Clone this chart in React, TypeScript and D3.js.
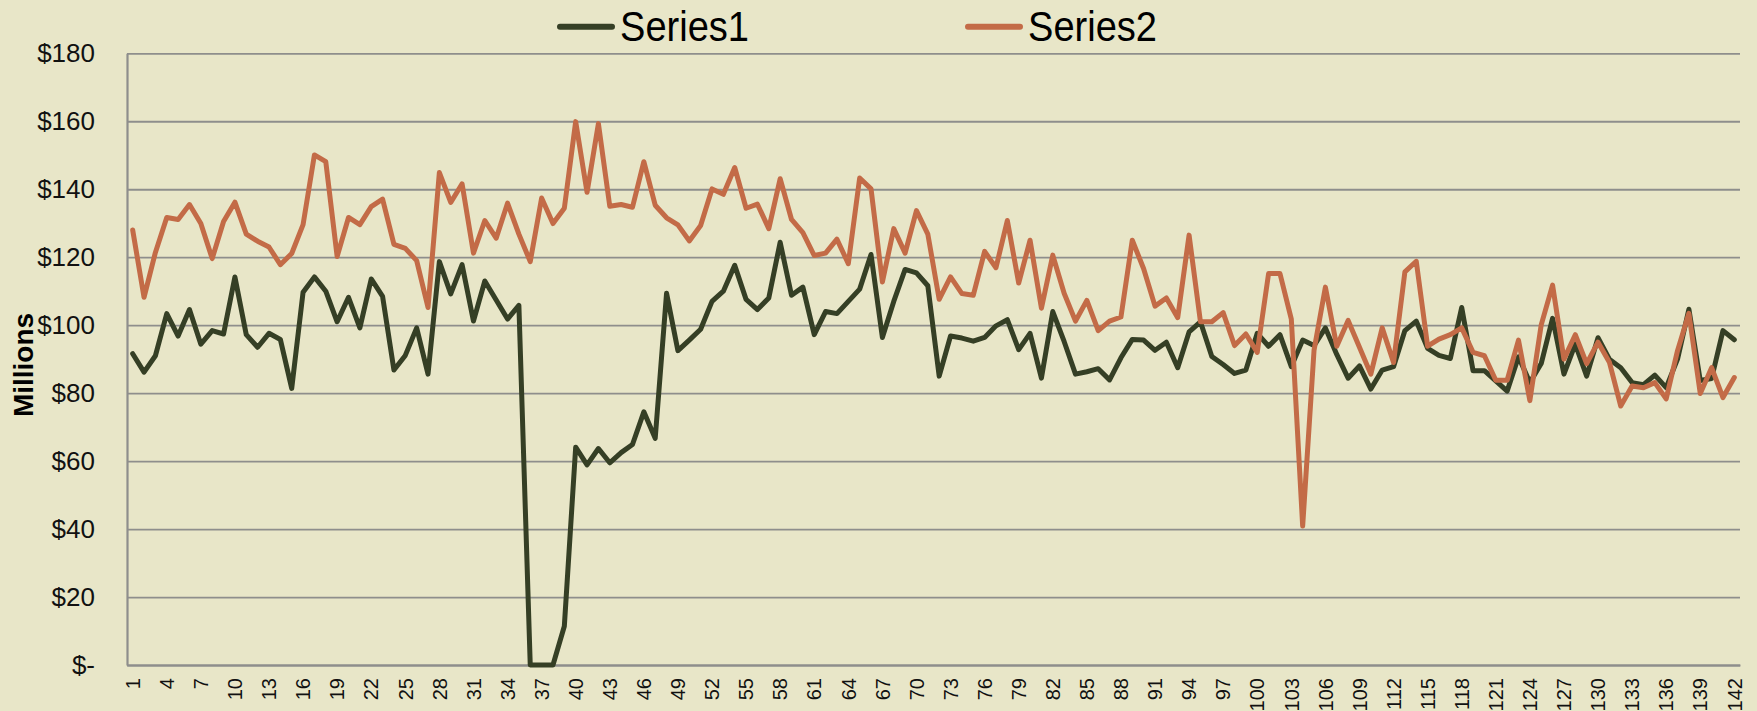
import * as d3 from "d3";
import { useEffect, useRef } from "react";

// values in millions
const series1 = [
  91.6, 86.2, 91.0, 103.4, 96.8, 104.6, 94.4, 98.4, 97.4, 114.2,
  97.2, 93.5, 97.6, 95.8, 81.4, 109.7, 114.2, 110.0, 101.0, 108.2,
  99.2, 113.6, 108.5, 86.8, 91.1, 99.2, 85.6, 118.7, 109.2, 117.8,
  101.2, 113.0, 107.4, 101.8, 105.8, 0, 0, 0, 11.4, 64.1,
  58.9, 63.7, 59.5, 62.5, 64.9, 74.5, 66.7, 109.4, 92.5, 95.6,
  98.8, 107.0, 110.0, 117.6, 107.6, 104.6, 108.0, 124.4, 108.8, 111.2,
  97.2, 104.0, 103.4, 107.0, 110.6, 120.8, 96.4, 107.0, 116.4, 115.4,
  111.6, 85.0, 96.8, 96.2, 95.3, 96.4, 99.8, 101.6, 92.8, 97.6,
  84.4, 104.0, 95.2, 85.6, 86.3, 87.2, 83.9, 90.4, 95.8, 95.6,
  92.6, 95.0, 87.5, 98.0, 101.0, 90.8, 88.4, 85.8, 86.8, 97.6,
  93.8, 97.2, 87.8, 95.6, 94.0, 99.2, 91.4, 84.4, 88.0, 81.2,
  86.8, 87.8, 98.4, 101.2, 93.2, 91.1, 90.2, 105.2, 86.6, 86.6,
  83.6, 80.6, 90.7, 83.1, 88.7, 102.0, 85.6, 94.4, 85.0, 96.3,
  90.0, 87.5, 83.1, 82.5, 85.3, 81.6, 90.0, 104.7, 83.7, 84.3,
  98.4, 95.7,
];

const series2 = [
  128.0, 108.2, 121.4, 131.7, 131.1, 135.5, 129.9, 119.6, 130.5, 136.2,
  126.8, 124.7, 123.0, 117.8, 121.1, 129.6, 150.1, 148.1, 120.2, 131.7,
  129.6, 134.9, 137.1, 123.8, 122.6, 119.0, 105.2, 144.9, 136.1, 141.6,
  121.2, 130.8, 125.6, 135.9, 126.8, 118.7, 137.4, 129.9, 134.4, 159.9,
  139.1, 159.3, 135.0, 135.5, 134.7, 148.1, 135.3, 131.6, 129.5, 124.8,
  129.3, 140.1, 138.5, 146.4, 134.4, 135.6, 128.4, 143.1, 131.1, 127.2,
  120.5, 121.2, 125.3, 118.1, 143.3, 140.1, 112.7, 128.4, 121.2, 133.7,
  126.8, 107.6, 114.2, 109.3, 108.8, 121.7, 116.9, 130.8, 112.4, 125.0,
  105.0, 120.6, 109.4, 101.2, 107.3, 98.4, 101.2, 102.4, 125.0, 116.6,
  105.6, 108.0, 102.2, 126.5, 101.0, 101.0, 103.7, 94.0, 97.4, 92.0,
  115.2, 115.2, 101.8, 40.9, 92.6, 111.2, 93.8, 101.4, 93.5, 85.6,
  99.2, 89.0, 115.7, 118.8, 93.8, 95.9, 97.2, 99.2, 92.0, 91.0,
  83.8, 83.8, 95.6, 77.8, 100.1, 111.8, 90.0, 97.2, 88.7, 95.0,
  89.1, 76.2, 82.1, 81.6, 83.1, 78.3, 92.5, 103.5, 79.9, 87.5,
  78.7, 84.6,
];

const categories = series1.map((_, i) => String(i + 1));
const xTickLabels = categories.filter((_, i) => i % 3 === 0);
const yTicks = [0, 20, 40, 60, 80, 100, 120, 140, 160, 180];

const seriesList = [
  { name: "Series1", values: series1, color: "#353f25" },
  { name: "Series2", values: series2, color: "#c36b47" },
];

const W = 1757;
const H = 711;
const margin = { top: 53.3, right: 17, bottom: 46, left: 127 };
const bg = "#e8e6c8";
const gridColor = "#8e8e8c";

const App = () => {
  const ref = useRef(null);

  useEffect(() => {
    const svg = d3.select(ref.current);
    svg.selectAll("*").remove();

    const innerW = W - margin.left - margin.right;
    const innerH = H - margin.top - margin.bottom;

    const x = d3.scaleBand().domain(categories).range([0, innerW]);
    const y = d3.scaleLinear().domain([0, 180]).range([innerH, 0]);

    svg.append("rect").attr("width", W).attr("height", H).attr("fill", bg);

    const g = svg.append("g").attr("transform", `translate(${margin.left},${margin.top})`);

    // y axis + gridlines
    const yAxis = d3
      .axisLeft(y)
      .tickValues(yTicks)
      .tickSizeInner(-innerW)
      .tickSizeOuter(0)
      .tickPadding(32)
      .tickFormat((d) => (d === 0 ? "$-" : `$${d}`));
    const ya = g.append("g").call(yAxis);
    ya.select(".domain").attr("stroke", gridColor).attr("stroke-width", 2.2);
    ya.selectAll(".tick line").attr("stroke", gridColor).attr("stroke-width", 1.8);
    ya.selectAll(".tick text")
      .attr("fill", "#111")
      .style("font-family", "'Liberation Sans', Arial, sans-serif")
      .style("font-size", "26px");

    // x axis
    const xAxis = d3.axisBottom(x).tickValues(xTickLabels).tickSize(0).tickSizeOuter(0);
    const xa = g.append("g").attr("transform", `translate(0,${innerH})`).call(xAxis);
    xa.select(".domain").attr("stroke", gridColor).attr("stroke-width", 2);
    xa.selectAll(".tick text")
      .attr("fill", "#111")
      .attr("transform", "rotate(-90)")
      .attr("x", -13)
      .attr("y", 0)
      .attr("dy", "0.36em")
      .style("text-anchor", "end")
      .style("font-family", "'Liberation Sans', Arial, sans-serif")
      .style("font-size", "20px");

    // lines
    const line = d3
      .line<number>()
      .x((_, i) => (x(categories[i]) as number) + x.bandwidth() / 2)
      .y((d) => y(d));

    seriesList.forEach((s) => {
      g.append("path")
        .datum(s.values)
        .attr("d", line)
        .attr("fill", "none")
        .attr("stroke", s.color)
        .attr("stroke-width", 5)
        .attr("stroke-linejoin", "round")
        .attr("stroke-linecap", "round");
    });

    // y title
    svg.append("text")
      .attr("transform", "translate(33,365) rotate(-90)")
      .attr("text-anchor", "middle")
      .attr("textLength", 104)
      .attr("lengthAdjust", "spacingAndGlyphs")
      .style("font-family", "'Liberation Sans', Arial, sans-serif")
      .style("font-weight", "bold")
      .style("font-size", "27px")
      .attr("fill", "#000")
      .text("Millions");

    // legend
    const legendPos = [558, 966];
    seriesList.forEach((s, i) => {
      const lx = legendPos[i];
      svg.append("line")
        .attr("x1", lx + 2).attr("x2", lx + 54)
        .attr("y1", 26.7).attr("y2", 26.7)
        .attr("stroke", s.color)
        .attr("stroke-width", 6)
        .attr("stroke-linecap", "round");
      svg.append("text")
        .attr("x", lx + 62)
        .attr("y", 40.7)
        .attr("textLength", 129)
        .attr("lengthAdjust", "spacingAndGlyphs")
        .style("font-family", "'Liberation Sans Narrow', 'Liberation Sans', Arial, sans-serif")
        .style("font-size", "43px")
        .attr("fill", "#000")
        .text(s.name);
    });
  }, []);

  return (
    <div style={{ position: "absolute", left: 0, top: 0 }}>
      <svg ref={ref} width={W} height={H} style={{ display: "block" }}></svg>
    </div>
  );
};

export default App;
